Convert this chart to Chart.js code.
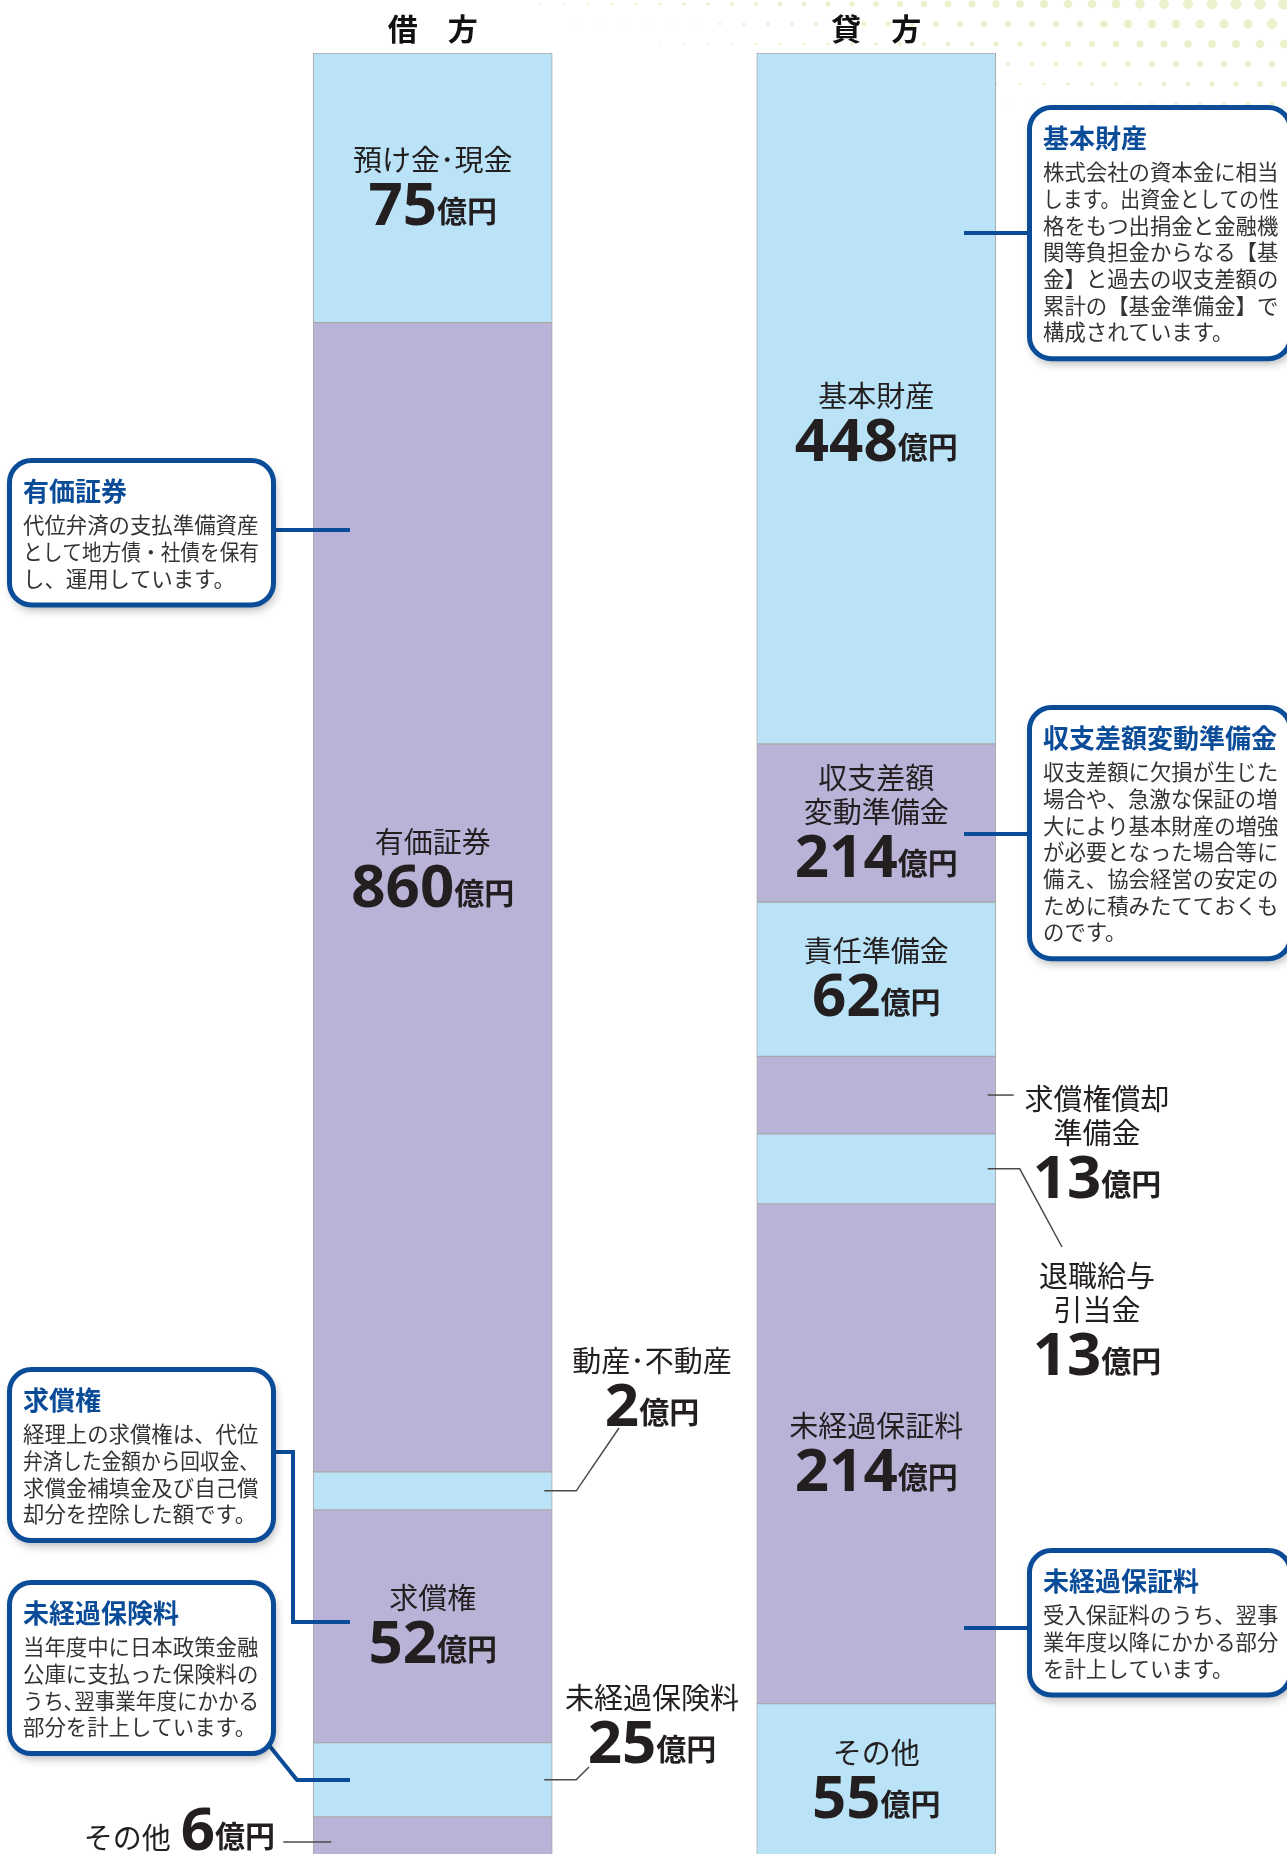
<!DOCTYPE html>
<html lang="ja">
<head>
<meta charset="utf-8">
<title>借方・貸方</title>
<script src="https://cdn.jsdelivr.net/npm/chart.js@4.4.1/dist/chart.umd.min.js"></script>
<style>
  html, body { margin: 0; padding: 0; background: #fff; }
  #wrap { width: 1287px; height: 1854px; overflow: hidden; }
</style>
</head>
<body>
<div id="wrap"><canvas id="bs" width="1287" height="1854"></canvas></div>
<script>
// columns
const sideLabels = ['借　方', '貸　方'];

// 借方 (amounts in 億円)
const debitNames = ['預け金･現金', '有価証券', '動産･不動産', '求償権', '未経過保険料', 'その他'];
const debitAmounts = [75, 860, 2, 52, 25, 6];
// segment lengths as drawn in the figure (per mille of the column) - the figure is not to scale
const debitDrawn = [149.7, 638.1, 21.1, 129.3, 41.2, 22.8];

// 貸方 (amounts in 億円)
const creditNames = ['基本財産', '収支差額\n変動準備金', '責任準備金', '求償権償却\n準備金', '退職給与\n引当金', '未経過保証料', 'その他'];
const creditAmounts = [448, 214, 62, 13, 13, 214, 55];
const creditDrawn = [383.7, 87.7, 85.7, 43.0, 38.9, 277.5, 85.7];

const BLUE = '#0b4c99';
const SKY = '#bae3f7';
const LILAC = '#bab3d8';
const INK = '#231f20';
const JP = '"Noto Sans CJK JP", "Noto Sans CJK SC", sans-serif';
const NUM = '"Noto Sans", "DejaVu Sans", sans-serif';

// where captions go when they are not centred in the segment
const debitCaption = {
  '有価証券': { shift: -27 },
  '動産･不動産': { x: 652, y: 1361, leader: { out: 24, to: [619, 1428] } },
  '未経過保険料': { x: 652, y: 1698, leader: { out: 24, to: [589, 1767] } },
  'その他': { inline: true, right: 275, y: 1850 }
};
const creditCaption = {
  '基本財産': { shift: 25 },
  '求償権償却\n準備金': { x: 1097, y: 1099, leader: { out: 18 } },
  '退職給与\n引当金': { x: 1097, y: 1276, leader: { out: 24, to: [1062, 1247] } }
};

// explanation boxes
const notes = [
  { side: 'right', top: 105, title: '基本財産',
    lines: ['株式会社の資本金に相当', 'します。出資金としての性', '格をもつ出捐金と金融機', '関等負担金からなる【基', '金】と過去の収支差額の', '累計の【基金準備金】で', '構成されています。'],
    link: [[964, 233], [1030, 233]] },
  { side: 'left', top: 458, title: '有価証券',
    lines: ['代位弁済の支払準備資産', 'として地方債・社債を保有', 'し、運用しています。'],
    link: [[272, 530], [350, 530]] },
  { side: 'right', top: 705, title: '収支差額変動準備金',
    lines: ['収支差額に欠損が生じた', '場合や、急激な保証の増', '大により基本財産の増強', 'が必要となった場合等に', '備え、協会経営の安定の', 'ために積みたてておくも', 'のです。'],
    link: [[964, 834], [1030, 834]] },
  { side: 'left', top: 1367, title: '求償権',
    lines: ['経理上の求償権は、代位', '弁済した金額から回収金、', '求償金補填金及び自己償', '却分を控除した額です。'],
    link: [[272, 1452], [293, 1452], [293, 1622], [350, 1622]] },
  { side: 'left', top: 1580, title: '未経過保険料',
    lines: ['当年度中に日本政策金融', '公庫に支払った保険料の', 'うち､翌事業年度にかかる', '部分を計上しています。'],
    link: [[268, 1744], [297, 1780], [350, 1780]] },
  { side: 'right', top: 1548, title: '未経過保証料',
    lines: ['受入保証料のうち、翌事', '業年度以降にかかる部分', 'を計上しています。'],
    link: [[964, 1628], [1030, 1628]] }
];

const datasets = [];
debitNames.forEach((n, i) => datasets.push({
  label: n, side: 'debit', idx: i, data: [debitDrawn[i], null],
  backgroundColor: i % 2 === 0 ? SKY : LILAC
}));
creditNames.forEach((n, i) => datasets.push({
  label: n, side: 'credit', idx: i, data: [null, creditDrawn[i]],
  backgroundColor: i % 2 === 0 ? SKY : LILAC
}));

function drawAmount(ctx, value, x, baseline, align) {
  const num = String(value);
  ctx.font = 'bold 60px ' + NUM;
  const wn = ctx.measureText(num).width;
  ctx.font = 'bold 30px ' + JP;
  const wu = ctx.measureText('億円').width;
  const x0 = align === 'right' ? x - wn - wu : x - (wn + wu) / 2;
  ctx.textAlign = 'left';
  ctx.textBaseline = 'alphabetic';
  ctx.fillStyle = INK;
  ctx.font = 'bold 60px ' + NUM;
  ctx.fillText(num, x0, baseline);
  ctx.font = 'bold 30px ' + JP;
  ctx.fillText('億円', x0 + wn, baseline - 3);
  return x0;
}

function drawNames(ctx, name, x, y) {
  const rows = name.split('\n');
  ctx.font = '29px ' + JP;
  ctx.fillStyle = INK;
  ctx.textAlign = 'center';
  ctx.textBaseline = 'middle';
  rows.forEach((r, k) => ctx.fillText(r, x, y + k * 34));
  return y + (rows.length - 1) * 34;
}

const dotsBackground = {
  id: 'dotsBackground',
  beforeDraw(chart) {
    const ctx = chart.ctx;
    ctx.save();
    ctx.fillStyle = '#fff';
    ctx.fillRect(0, 0, chart.width, chart.height);
    ctx.fillStyle = 'rgb(236, 241, 204)';
    for (let row = 0; row < 9; row++) {
      const y = 4 + row * 20;
      for (let x = 300 + (row % 2) * 12; x < 1300; x += 24) {
        const a = Math.pow((x - 300) / 990, 1.3);
        const r = 6 * a * (1 - y / (60 + 110 * a));
        if (r < 0.8) continue;
        ctx.beginPath();
        ctx.arc(x, y, r, 0, Math.PI * 2);
        ctx.fill();
      }
    }
    ctx.restore();
  }
};

const captions = {
  id: 'captions',
  afterDatasetsDraw(chart) {
    const ctx = chart.ctx;
    ctx.save();
    chart.data.datasets.forEach((ds, di) => {
      const bar = chart.getDatasetMeta(di).data[ds.side === 'debit' ? 0 : 1];
      const top = Math.min(bar.y, bar.base), bottom = Math.max(bar.y, bar.base);
      const mid = (top + bottom) / 2;
      const left = bar.x - bar.width / 2, right = bar.x + bar.width / 2;
      const amount = ds.side === 'debit' ? debitAmounts[ds.idx] : creditAmounts[ds.idx];
      const lay = (ds.side === 'debit' ? debitCaption : creditCaption)[ds.label] || {};

      ctx.strokeStyle = '#4a4a4a';
      ctx.lineWidth = 1.5;
      if (lay.inline) {
        // small segment captioned on the left: "その他 6億円"
        const x0 = drawAmount(ctx, amount, lay.right, lay.y, 'right');
        ctx.font = '29px ' + JP;
        ctx.textAlign = 'right';
        ctx.textBaseline = 'middle';
        ctx.fillText(ds.label, x0 - 10, lay.y - 12);
        ctx.beginPath();
        ctx.moveTo(left - 30, lay.y - 8);
        ctx.lineTo(left + 18, lay.y - 8);
        ctx.stroke();
        return;
      }
      if (lay.leader) {
        ctx.beginPath();
        ctx.moveTo(right - 8, mid);
        ctx.lineTo(right + lay.leader.out, mid);
        if (lay.leader.to) ctx.lineTo(lay.leader.to[0], lay.leader.to[1]);
        ctx.stroke();
        const last = drawNames(ctx, ds.label, lay.x, lay.y);
        drawAmount(ctx, amount, lay.x, last + 65);
        return;
      }
      const rows = ds.label.split('\n').length;
      const y0 = mid - 28 - (rows - 1) * 17 + (lay.shift || 0);
      const last = drawNames(ctx, ds.label, bar.x, y0);
      drawAmount(ctx, amount, bar.x, last + 65);
    });
    ctx.restore();
  },
  afterDraw(chart) {
    const ctx = chart.ctx;
    ctx.save();
    notes.forEach(n => {
      const x = n.side === 'left' ? 7 : 1027;
      const w = n.side === 'left' ? 269 : 266;
      const h = 96 + (n.lines.length - 1) * 26.7;

      ctx.strokeStyle = BLUE;
      ctx.lineWidth = 4;
      ctx.lineJoin = 'miter';
      ctx.beginPath();
      n.link.forEach((p, k) => (k ? ctx.lineTo(p[0], p[1]) : ctx.moveTo(p[0], p[1])));
      ctx.stroke();

      ctx.save();
      ctx.shadowColor = 'rgba(0, 0, 0, 0.3)';
      ctx.shadowBlur = 10;
      ctx.shadowOffsetX = 2;
      ctx.shadowOffsetY = 5;
      ctx.beginPath();
      ctx.roundRect(x + 2.5, n.top + 2.5, w - 5, h - 5, 22);
      ctx.fillStyle = '#fff';
      ctx.fill();
      ctx.restore();
      ctx.lineWidth = 5;
      ctx.strokeStyle = BLUE;
      ctx.stroke();

      ctx.textAlign = 'left';
      ctx.textBaseline = 'middle';
      ctx.fillStyle = BLUE;
      ctx.font = 'bold 26px ' + JP;
      ctx.fillText(n.title, x + 16, n.top + 33.5);
      ctx.fillStyle = '#333';
      ctx.font = '21.4px ' + JP;
      n.lines.forEach((t, k) => ctx.fillText(t, x + 16, n.top + 67 + k * 26.7, 236));
    });
    ctx.restore();
  }
};

const chart = new Chart(document.getElementById('bs'), {
  type: 'bar',
  data: { labels: sideLabels, datasets: datasets },
  options: {
    responsive: false,
    animation: false,
    events: [],
    layout: { padding: { left: 211, right: 189, top: 4, bottom: 0 } },
    plugins: { legend: { display: false }, tooltip: { enabled: false } },
    datasets: {
      bar: { barThickness: 239, borderSkipped: false, borderWidth: 1, borderColor: '#a9a9a9' }
    },
    scales: {
      x: {
        position: 'top',
        stacked: true,
        grid: { display: false, drawTicks: false },
        border: { display: false },
        ticks: { color: '#111', padding: 6.5, font: { family: JP, size: 30, weight: 'bold' } }
      },
      y: { stacked: true, reverse: true, min: 0, max: 1000, display: false }
    }
  },
  plugins: [dotsBackground, captions]
});
</script>
</body>
</html>
